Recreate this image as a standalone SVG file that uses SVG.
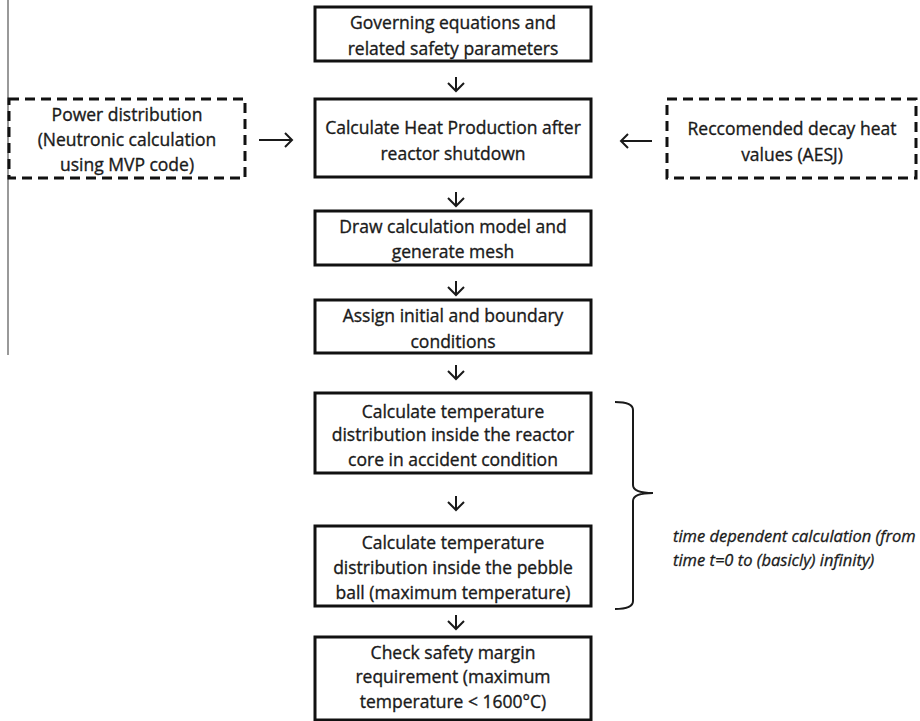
<svg xmlns="http://www.w3.org/2000/svg" width="920" height="721" viewBox="0 0 920 721">
<defs>
<style>
.box{fill:#fff;stroke:#111;stroke-width:3}
.dash{fill:#fff;stroke:#111;stroke-width:3;stroke-dasharray:10 6}
.t{font-family:"Open Sans","Liberation Sans",sans-serif;font-size:17.5px;fill:#1a1a1a;stroke:#1a1a1a;stroke-width:0.35;text-anchor:middle}
.it{font-family:"Open Sans","Liberation Sans",sans-serif;font-size:16.5px;font-style:italic;fill:#1a1a1a;stroke:#1a1a1a;stroke-width:0.3}
.ar{fill:none;stroke:#1a1a1a;stroke-width:2}
</style>
</defs>
<rect width="920" height="721" fill="#fff"/>
<line x1="8" y1="0" x2="8" y2="355" stroke="#555" stroke-width="1.2"/>
<g id="n1"><rect class="box" x="315" y="7" width="276" height="54"/>
<text class="t" x="453" y="29">Governing equations and</text>
<text class="t" x="453" y="55">related safety parameters</text></g>
<g id="n2"><rect class="box" x="315" y="99" width="276" height="78"/>
<text class="t" x="453" y="134">Calculate Heat Production after</text>
<text class="t" x="453" y="160">reactor shutdown</text></g>
<g id="n3"><rect class="box" x="315" y="211" width="276" height="54"/>
<text class="t" x="453" y="233">Draw calculation model and</text>
<text class="t" x="453" y="258">generate mesh</text></g>
<g id="n4"><rect class="box" x="315" y="300" width="276" height="53"/>
<text class="t" x="453" y="322">Assign initial and boundary</text>
<text class="t" x="453" y="348">conditions</text></g>
<g id="n5"><rect class="box" x="315" y="393" width="276" height="80"/>
<text class="t" x="453" y="418">Calculate temperature</text>
<text class="t" x="453" y="441">distribution inside the reactor</text>
<text class="t" x="453" y="466">core in accident condition</text></g>
<g id="n6"><rect class="box" x="315" y="526" width="276" height="80"/>
<text class="t" x="453" y="549">Calculate temperature</text>
<text class="t" x="453" y="574">distribution inside the pebble</text>
<text class="t" x="453" y="599">ball (maximum temperature)</text></g>
<g id="n7"><rect class="box" x="315" y="637" width="276" height="83"/>
<text class="t" x="453" y="659">Check safety margin</text>
<text class="t" x="453" y="683">requirement (maximum</text>
<text class="t" x="453" y="708">temperature &lt; 1600°C)</text></g>
<g id="p1"><rect class="dash" x="9" y="99" width="236" height="79"/>
<text class="t" x="127" y="121">Power distribution</text>
<text class="t" x="127" y="146">(Neutronic calculation</text>
<text class="t" x="127" y="171">using MVP code)</text></g>
<g id="p2"><rect class="dash" x="667" y="99" width="249" height="79"/>
<text class="t" x="792" y="135">Reccomended decay heat</text>
<text class="t" x="792" y="161">values (AESJ)</text></g>
<g id="brace">
<path d="M615 402 Q633 402 633 410 L633 485 Q633 493 653 493 Q633 493 633 501 L633 601 Q633 609 615 609" fill="none" stroke="#1a1a1a" stroke-width="2"/>
<text class="it" x="673" y="542">time dependent calculation (from</text>
<text class="it" x="673" y="566">time t=0 to (basicly) infinity)</text></g>
<g id="connectors">
<path class="ar" d="M456 77V91M448 83L456 91L464 83"/>
<path class="ar" d="M456 192V206M448 198L456 206L464 198"/>
<path class="ar" d="M456 281V295M448 287L456 295L464 287"/>
<path class="ar" d="M456 365V379M448 371L456 379L464 371"/>
<path class="ar" d="M456 496V510M448 502L456 510L464 502"/>
<path class="ar" d="M456 615V629M448 621L456 629L464 621"/>
<path class="ar" d="M259 140H292M285 133L292 140L285 147"/>
<path class="ar" d="M652 141H621M628 134L621 141L628 148"/>
</g>
</svg>
